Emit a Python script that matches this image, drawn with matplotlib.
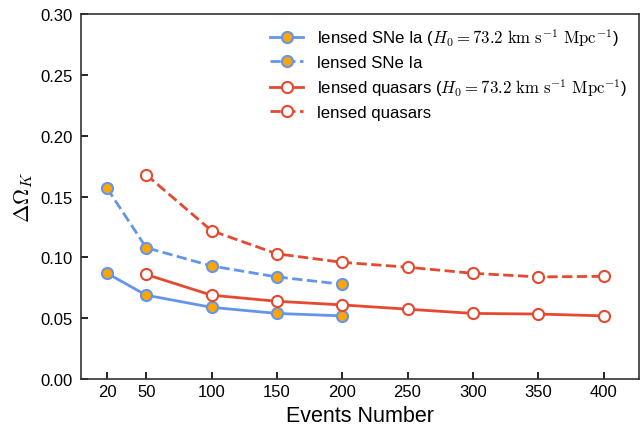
import matplotlib
matplotlib.use("Agg")
import matplotlib.pyplot as plt

plt.rcParams["font.family"] = ["Liberation Sans", "DejaVu Sans"]
plt.rcParams["mathtext.fontset"] = "cm"

# Daten
n_sne = [20, 50, 100, 150, 200]
sne_h0 = [0.087, 0.069, 0.059, 0.054, 0.052]
sne = [0.157, 0.108, 0.093, 0.084, 0.078]

n_qso = [50, 100, 150, 200, 250, 300, 350, 400]
qso_h0 = [0.086, 0.069, 0.064, 0.061, 0.0575, 0.054, 0.0535, 0.052]
qso = [0.168, 0.122, 0.103, 0.096, 0.092, 0.087, 0.084, 0.0845]

xticks = [20, 50, 100, 150, 200, 250, 300, 350, 400]

blue = "#6495ED"
orange = "#FFA500"
red = "#E5492F"

fig = plt.figure(figsize=(6.42, 4.31), dpi=100)
ax = fig.add_axes([0.126, 0.118, 0.869, 0.847])

h0 = r"($H_0=73.2\ \mathrm{km\ s^{-1}\ Mpc^{-1}}$)"
ax.plot(n_sne, sne_h0, "-o", color=blue, lw=2, ms=8, mfc=orange, mec=blue, mew=1.5,
        label="lensed SNe Ia " + h0)
ax.plot(n_sne, sne, "--o", color=blue, lw=2, ms=8, mfc=orange, mec=blue, mew=1.5,
        label="lensed SNe Ia")
ax.plot(n_qso, qso_h0, "-o", color=red, lw=2, ms=8, mfc="white", mec=red, mew=1.5,
        label="lensed quasars " + h0)
ax.plot(n_qso, qso, "--o", color=red, lw=2, ms=8, mfc="white", mec=red, mew=1.5,
        label="lensed quasars")

ax.set_xlim(0, 427)
ax.set_ylim(0, 0.3)
ax.set_xticks(xticks)
ax.set_yticks([0, 0.05, 0.1, 0.15, 0.2, 0.25, 0.3])
ax.tick_params(direction="in", labelsize=12, length=5, width=1.2)
ax.tick_params(axis="y", pad=6)
for s in ax.spines.values():
    s.set_linewidth(1.2)
    s.set_color("#333333")

ax.set_xlabel("Events Number", fontsize=15.5)
ax.set_ylabel(r"$\Delta\Omega_K$", fontsize=16)
ax.legend(loc="upper right", frameon=False, fontsize=12.1, handlelength=2,
          labelspacing=0.4, borderaxespad=0.3)

plt.savefig("out.png", dpi=100)
plt.close()
